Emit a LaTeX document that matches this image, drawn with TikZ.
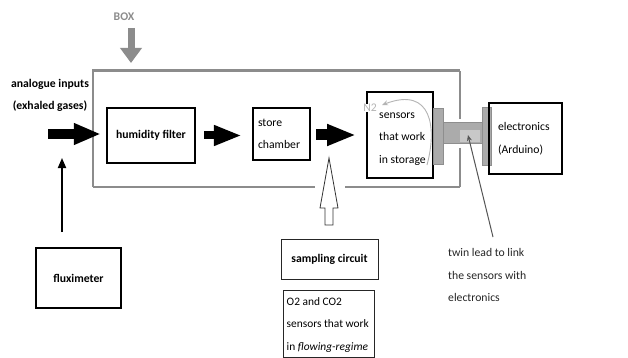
\documentclass[tikz,border=0pt]{standalone}
\usepackage{fontspec}
\setmainfont{Carlito}
\usetikzlibrary{arrows.meta}
\definecolor{boxgray}{HTML}{8C8C8C}
\definecolor{plategray}{HTML}{ABABAB}
\definecolor{plateedge}{HTML}{8E8E8E}
\definecolor{lightplate}{HTML}{C8C8C8}
\definecolor{ntwo}{HTML}{B4B4B4}
\definecolor{leadline}{HTML}{555555}
\begin{document}
\begin{tikzpicture}[x=1pt,y=-1pt,
  every node/.style={font=\fontsize{11.7}{22.5}\selectfont, inner sep=0pt},
  heavybox/.style={draw=black, line width=2.3pt},
  lightbox/.style={draw=black, line width=1.2pt},
  blockarrow/.style args={#1/#2/#3}{draw=black, line width=#1, -{Triangle[width=#2,length=#3]}},
  graybox/.style={draw=boxgray, line width=#1},
  plate/.style={fill=plategray, draw=plateedge, line width=0.8pt}
]
\useasboundingbox (0,0) rectangle (628,358);
\fill[white] (0,0) rectangle (628,358);

% BOX label and arrow
\node[text=boxgray, font=\fontsize{11.7}{14}\selectfont\bfseries] (boxlbl) at (124,17) {BOX};
\coordinate (boxarrstart) at (131,28);
\coordinate (boxarrtip) at (131,63);
\draw[draw=boxgray, line width=7pt, -{Triangle[width=21pt,length=15pt]}] (boxarrstart) -- (boxarrtip);

% outer gray box
\draw[graybox=3pt] (92,71) -- (460,71);
\draw[graybox=1.5pt] (93,71) -- (93,187);
\draw[graybox=2pt] (93,187) -- (315,187);
\draw[graybox=2pt] (345,187) -- (460,187);
\draw[graybox=1.5pt] (460,71) -- (460,119);
\draw[graybox=1.5pt] (460,148) -- (460,187);

% analogue inputs
\node[align=center, font=\fontsize{11.7}{22.5}\selectfont\bfseries] (ain) at (50,95.5) {analogue inputs\\(exhaled gases)};
\coordinate (inputstart) at (48,134);

% humidity filter
\node[heavybox, minimum width=88pt, minimum height=55pt, font=\fontsize{11.7}{22.5}\selectfont\bfseries] (hf) at (151,135.5) {humidity filter};

% store chamber
\node[heavybox, minimum width=57pt, minimum height=52pt, text width=47pt, inner xsep=5pt, align=left] (store) at (281.5,134) {store\\chamber};

% sensors in storage
\node[heavybox, line width=2pt, minimum width=66pt, minimum height=86pt] (sens) at (400,135) {};
\node[anchor=west, align=left] (senstxt) at (379,139) {sensors\\that work\\in storage};

% N2 and its curved gray arrow
\node[text=ntwo, fill=white, inner sep=0.5pt] (n2) at (370,108) {N2};
\coordinate (n2from) at (427,165);
\coordinate (n2tip) at (382,105);
\draw[draw=ntwo, line width=0.9pt, -{Stealth[length=6pt,width=5pt]}] (n2from) .. controls (437,128) and (432,86) .. (n2tip);

% plates and twin lead
\node[plate, minimum width=10pt, minimum height=56pt] (splate) at (438,136) {};
\node[plate, minimum width=39pt, minimum height=21pt] (lead) at (462.5,132.5) {};
\node[fill=lightplate, minimum width=20pt, minimum height=12pt] (leadlight) at (470,136) {};
\node[plate, minimum width=9pt, minimum height=58pt] (eplate) at (486.5,136) {};

% electronics
\node[heavybox, minimum width=73pt, minimum height=71pt, text width=55pt, inner xsep=9pt, align=left] (elec) at (525.5,138.5) {electronics\\(Arduino)};

% block arrows
\draw[blockarrow=10pt/20pt/27pt] (inputstart) -- ([xshift=-5pt]hf.west |- inputstart);
\draw[blockarrow=8pt/19pt/28pt] ([xshift=8pt]hf.east) -- ([xshift=-10pt]store.west |- hf.east);
\draw[blockarrow=11pt/20pt/29pt] ([xshift=5pt]store.east |- sens.west) -- ([xshift=-10pt]sens.west);

% fluximeter
\node[lightbox, line width=1.4pt, minimum width=85pt, minimum height=60pt, font=\fontsize{11.7}{22.5}\selectfont\bfseries] (flux) at (78.5,278) {fluximeter};
\coordinate (fluxtop) at (62,232);
\coordinate (fluxtip) at (62,158);
\draw[line width=1.8pt, -{Triangle[width=8pt,length=10pt]}] (fluxtop) -- (fluxtip);

% sampling circuit
\node[draw=black!85, line width=1pt, minimum width=97pt, minimum height=40pt, font=\fontsize{11.7}{22.5}\selectfont\bfseries] (samp) at (329.5,259) {sampling circuit};

% hollow arrow from sampling circuit into the box
\coordinate (hollowbase) at (329,225);
\coordinate (hollowtip) at (329,158);
\draw[fill=white, draw=black!80, line width=0.8pt] (hollowbase) ++(-4,0) -- ++(0,-17) -- ++(-5,0) -- (hollowtip) -- ++(9,50) -- ++(-5,0) -- ++(0,17) -- cycle;

% O2 and CO2 sensors
\node[draw=black!85, line width=0.9pt, minimum width=91pt, minimum height=67pt] (o2) at (328.5,323.5) {};
\node[anchor=west, align=left, font=\fontsize{11.4}{22.5}\selectfont] (o2txt) at (286.5,325) {O2 and CO2\\sensors that work\\in \textit{flowing-regime}};

% twin lead note
\node[anchor=west, align=left, text=black!85] (twin) at (448,275) {twin lead to link\\the sensors with\\electronics};
\coordinate (twinfrom) at (493,237);
\coordinate (twintip) at (468,135);
\draw[draw=leadline, line width=1pt, -{Stealth[length=6pt,width=5pt]}] (twinfrom) -- (twintip);
\end{tikzpicture}
\end{document}
